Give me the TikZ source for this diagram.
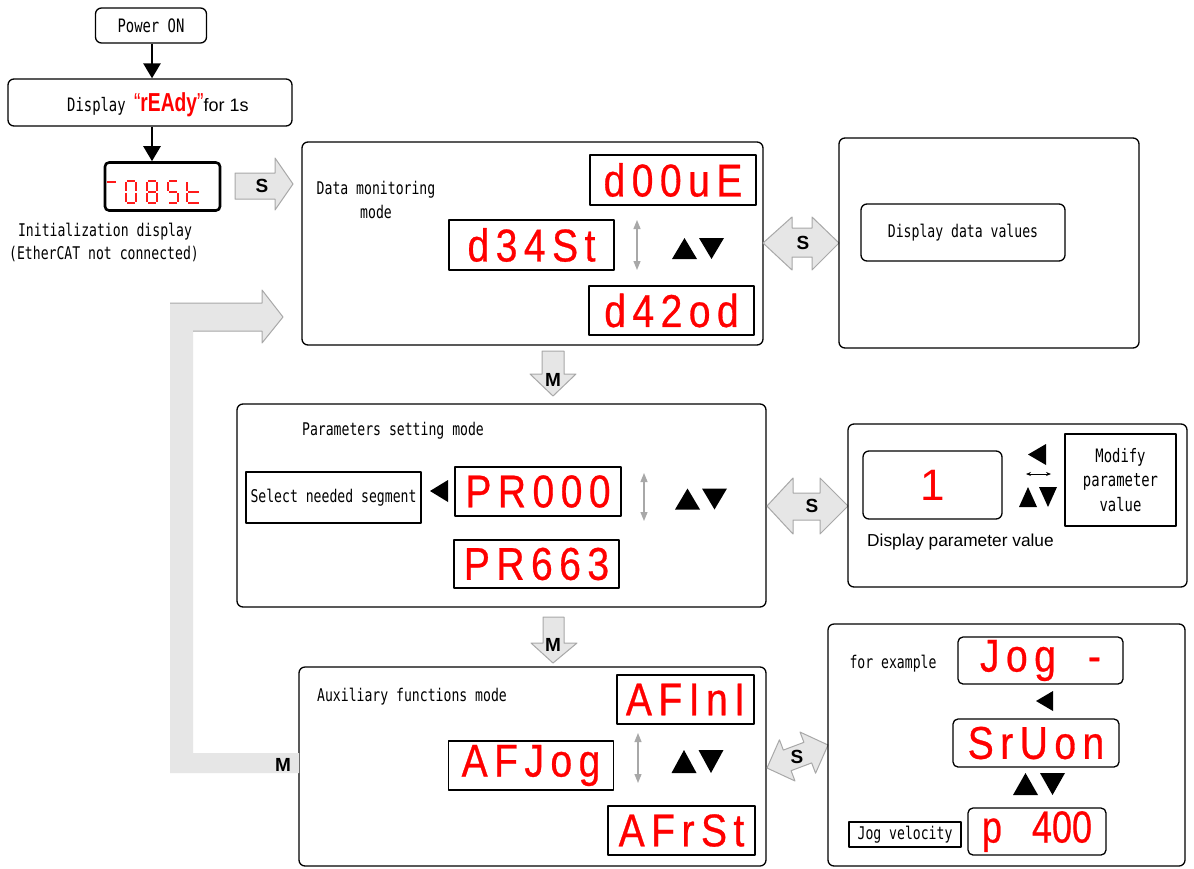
\documentclass[tikz,border=0pt]{standalone}
\usepackage{fontspec}
\usetikzlibrary{arrows.meta}
\newfontfamily\gothic[FakeStretch=0.75]{DejaVu Sans Mono}
\newfontfamily\segf[LetterSpace=14,FakeStretch=0.85,FakeBold=0.6]{Liberation Sans}
\newfontfamily\arialf{Liberation Sans}
\newfontfamily\arialn[FakeStretch=0.74]{Liberation Sans}
\newfontfamily\arialc[FakeStretch=0.8,FakeBold=0.5]{Liberation Sans}
\definecolor{arrfill}{HTML}{E6E6E6}
\definecolor{arrline}{HTML}{A8A8A8}
\definecolor{dblgray}{HTML}{A8A8A8}
\definecolor{segred}{HTML}{FF1A1A}
\newcommand\gtsize[1]{\gothic\fontsize{#1}{#1}\selectfont}
\newcommand\updn[4]{%
  \fill (#1-#3-1,#2+#4/2) -- (#1-#3/2-1,#2-#4/2) -- (#1-1,#2+#4/2) -- cycle;
  \fill (#1+1,#2-#4/2) -- (#1+#3+1,#2-#4/2) -- (#1+#3/2+1,#2+#4/2) -- cycle;}
\newcommand\lefttri[4]{\fill (#2,#3) -- (#1,{(#3+#4)/2}) -- (#2,#4) -- cycle;}
\newcommand\sgA{\draw[segline] (1,0) -- (9,0);}
\newcommand\sgB{\draw[segline] (10,1) -- (10,10);}
\newcommand\sgC{\draw[segline] (10,12) -- (10,21);}
\newcommand\sgD{\draw[segline] (1,22) -- (9,22);}
\newcommand\sgE{\draw[segline] (0,12) -- (0,21);}
\newcommand\sgF{\draw[segline] (0,1) -- (0,10);}
\newcommand\sgG{\draw[segline] (1,11) -- (9,11);}
\begin{document}
\begin{tikzpicture}[x=1pt, y=-1pt, line join=round,
  rbox/.style={draw, line width=1.3pt, rounded corners=6pt, inner sep=0pt},
  sbox/.style={draw, line width=1.3pt, inner sep=0pt},
  gt/.style={font=\gtsize{17.5}, inner sep=0pt},
  dtxt/.style={text=red, font=\segf\fontsize{46}{46}\selectfont},
  bigarrow/.style={fill=arrfill, draw=arrline, line width=1pt},
  keylab/.style={font=\arialf\bfseries\fontsize{19}{19}\selectfont, inner sep=0pt},
  blkarrow/.style={line width=2.6pt, -{Triangle[length=15pt, width=17pt]}},
  grayud/.style={draw=dblgray, line width=1.2pt, {Triangle[length=9pt,width=7pt]}-{Triangle[length=9pt,width=7pt]}},
  segline/.style={draw=segred, line width=1.8pt}]
\useasboundingbox (0,0) rectangle (1194,868);
\fill[white] (0,0) rectangle (1194,868);

% ---- start sequence
\node[rbox, minimum width=111pt, minimum height=35pt, font=\gtsize{18.5}] (power) at (151,25.5) {Power ON};
\node[rbox, minimum width=284pt, minimum height=47pt] (ready) at (150,102.5) {};
\node[anchor=base west, inner sep=0pt] (readytxt) at (67,111) {{\gtsize{18.5}Display }{\color{red}\arialn\fontsize{26}{26}\selectfont “{\bfseries rEAdy}”}{\arialf\fontsize{18}{18}\selectfont for 1s}};
\node[draw, line width=2.6pt, rounded corners=4pt, minimum width=115pt, minimum height=48pt, inner sep=0pt, fill=white] (init) at (162.5,186.5) {};
\coordinate (ax) at (152,0);
\draw[blkarrow] (power.south -| ax) -- (ready.north -| ax);
\draw[blkarrow] (ready.south -| ax) -- (init.north -| ax);
% seven segment "-085t"
\draw[segline] (107,182) -- (116,182);
\begin{scope}[shift={(126,181)}]\sgA\sgB\sgC\sgD\sgE\sgF\end{scope}
\begin{scope}[shift={(147,181)}]\sgA\sgB\sgC\sgD\sgE\sgF\sgG\end{scope}
\begin{scope}[shift={(168,181)}]\sgA\sgF\sgG\sgC\sgD\end{scope}
\begin{scope}[shift={(187,181)}]\sgF\sgE\sgG\sgD\draw[segline] (9,11) -- (12,11); \draw[segline] (9,22) -- (12,22);\end{scope}
\node[gt] (initl1) at (105,232) {Initialization display};
\node[gt] (initl2) at (104,254) {(EtherCAT not connected)};

% S arrow into data monitoring
\path[bigarrow] (235,173) -- (275,173) -- (275,158) -- (293,184) -- (275,210) -- (275,199) -- (235,199) -- cycle;
\node[keylab] (s1) at (262,186) {S};

% ---- data monitoring
\node[rbox, minimum width=461pt, minimum height=203pt] (data) at (532.5,243.5) {};
\node[gt] (datal1) at (376,190) {Data monitoring};
\node[gt] (datal2) at (376,212) {mode};
\node[sbox, dtxt, minimum width=166pt, minimum height=50pt] (d00) at (673,180) {d00uE};
\node[sbox, dtxt, minimum width=165pt, minimum height=50pt] (d34) at (531.5,245) {d34St};
\node[sbox, dtxt, minimum width=165pt, minimum height=49pt] (d42) at (671.5,310.5) {d42od};
\coordinate (du1) at (637,220); \coordinate (du2) at (637,270);
\draw[grayud] (du1) -- (du2);
\updn{698}{248.5}{25}{21}

\path[bigarrow] (763,243) -- (792,217) -- (792,228) -- (812,228) -- (812,217) -- (839,243) -- (812,270) -- (812,257) -- (792,257) -- (792,270) -- cycle;
\node[keylab] (s2) at (803,243) {S};

\node[rbox, minimum width=300pt, minimum height=210pt] (ddv) at (989,243) {};
\node[rbox, gt, minimum width=204pt, minimum height=57pt] (ddvin) at (963,232.5) {Display data values};

% M arrow 1
\path[bigarrow] (542,351) -- (564,351) -- (564,374) -- (576,374) -- (553,396) -- (530,374) -- (542,374) -- cycle;
\node[keylab] (m1) at (553,380) {M};

% ---- parameter setting
\node[rbox, minimum width=529pt, minimum height=203pt] (param) at (501.5,505.5) {};
\node[gt] (paraml) at (393,431) {Parameters setting mode};
\node[sbox, gt, minimum width=175pt, minimum height=51pt] (sel) at (333.5,497.5) {Select needed segment};
\lefttri{430}{448}{480}{502}
\node[sbox, dtxt, minimum width=166pt, minimum height=49pt] (pr0) at (538,491.5) {PR000};
\node[sbox, dtxt, minimum width=165pt, minimum height=48pt] (pr6) at (536.5,564) {PR663};
\coordinate (pu1) at (644,473); \coordinate (pu2) at (644,521);
\draw[grayud] (pu1) -- (pu2);
\updn{701}{499}{25}{21}

\path[bigarrow] (767,506) -- (793,478) -- (793,493) -- (820,493) -- (820,478) -- (848,506) -- (820,534) -- (820,520) -- (793,520) -- (793,534) -- cycle;
\node[keylab] (s3) at (812,506) {S};

\node[rbox, minimum width=339pt, minimum height=163pt] (pv) at (1017.5,505.5) {};
\node[rbox, minimum width=139pt, minimum height=68pt, text=red, font=\arialf\fontsize{44}{44}\selectfont] (one) at (932.5,485) {1};
\node[anchor=west, font=\arialf\fontsize{17.3}{17.3}\selectfont, inner sep=0pt] (dpv) at (867,542) {Display parameter value};
\lefttri{1028}{1046}{444}{465}
\coordinate (lr1) at (1026,474); \coordinate (lr2) at (1051,474);
\draw[{Stealth[length=5pt,width=4pt]}-{Stealth[length=5pt,width=4pt]}, line width=0.8pt] (lr1) -- (lr2);
\updn{1038}{497}{18}{20}
\node[sbox, minimum width=111pt, minimum height=92pt, align=center, font=\gothic\fontsize{18.5}{24.5}\selectfont] (mod) at (1120.5,480) {Modify\\parameter\\value};

% M arrow 2
\path[bigarrow] (543,617) -- (564,617) -- (564,643) -- (577,643) -- (553,663) -- (531,643) -- (543,643) -- cycle;
\node[keylab] (m2) at (553,645) {M};

% ---- auxiliary functions
\node[rbox, minimum width=467pt, minimum height=199pt] (aux) at (532.5,766.5) {};
\node[gt] (auxl) at (412,697) {Auxiliary functions mode};
\node[sbox, dtxt, minimum width=137pt, minimum height=49pt] (afi) at (685.5,699.5) {AFInI};
\node[sbox, dtxt, minimum width=165pt, minimum height=49pt] (afj) at (531,765.5) {AFJog};
\node[sbox, dtxt, minimum width=147pt, minimum height=49pt] (afr) at (681.5,830.5) {AFrSt};
\coordinate (au1) at (638,733); \coordinate (au2) at (638,783);
\draw[grayud] (au1) -- (au2);
\updn{697.5}{761.5}{25}{23}

\begin{scope}[shift={(797.5,756.5)}, rotate=20.66]
\path[bigarrow] (-32.6,0) -- (-11,-22) -- (-11,-11) -- (11,-11) -- (11,-22) -- (32.6,0) -- (11,22) -- (11,11) -- (-11,11) -- (-11,22) -- cycle;
\end{scope}
\node[keylab] (s4) at (797,757) {S};

\node[rbox, minimum width=357pt, minimum height=242pt] (jogbox) at (1006.5,745) {};
\node[gt] (forex) at (893,664) {for example};
\node[rbox, rounded corners=5pt, minimum width=165pt, minimum height=47pt, dtxt] (jogm) at (1040.5,660.5) {Jog\hspace{32pt}-};
\lefttri{1036}{1053}{691}{711}
\node[rbox, rounded corners=5pt, minimum width=166pt, minimum height=48pt, dtxt] (sruon) at (1036,743) {SrUon};
\updn{1039}{784}{25}{22}
\node[rbox, rounded corners=5pt, minimum width=138pt, minimum height=47pt, text=red, font=\arialc\fontsize{45}{45}\selectfont] (p400) at (1037,831.5) {p\hspace{30pt}400};
\node[sbox, gt, minimum width=112pt, minimum height=25pt] (jv) at (905,834.5) {Jog velocity};

% ---- return arrow M
\fill[arrfill] (170,773) -- (299,773) -- (299,753) -- (193,753) -- (193,331) -- (262,331) -- (262,343) -- (283,317) -- (262,290) -- (262,303) -- (170,303) -- cycle;
\draw[draw=arrline, line width=1pt] (170,303) -- (262,303) -- (262,290) -- (283,317) -- (262,343) -- (262,331) -- (193,331);
\node[keylab] (mback) at (283,765) {M};
\end{tikzpicture}
\end{document}
